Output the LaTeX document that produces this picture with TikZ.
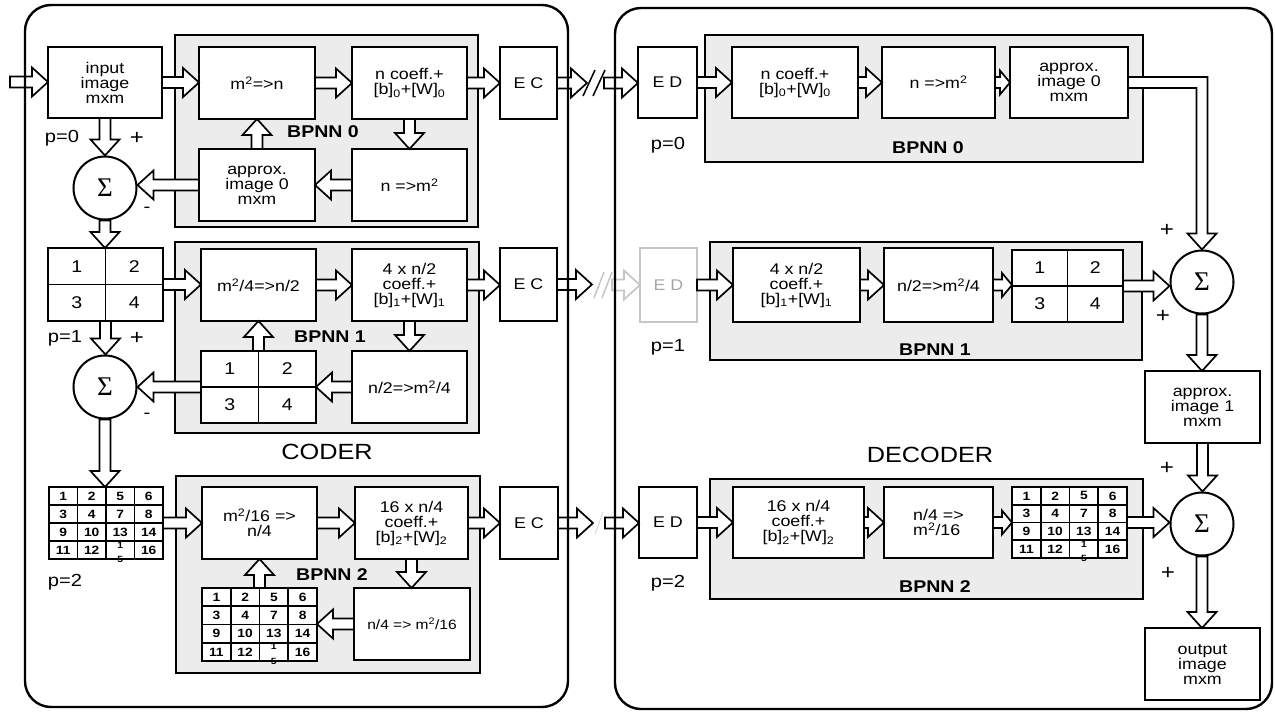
\documentclass[tikz,border=0pt]{standalone}
\usepackage{fontspec}
\setmainfont[FakeStretch=1.15]{Liberation Sans}
\newfontfamily\sigfont{Liberation Serif}
\usetikzlibrary{calc}
\newcommand\fs[2]{\fontsize{#1}{#2}\selectfont}
\newcommand\sbs[1]{\textsubscript{#1}}
\newcommand\sps[1]{\textsuperscript{#1}}
\def\arW{5.5pt}\def\arH{14.5pt}\def\arL{16pt}
\tikzset{
 box/.style={draw,line width=2.1pt,fill=white,inner sep=0pt,outer sep=0pt,align=center,font=\fs{15.5}{15}},
 gbox/.style={fill=gray!15},
 faded/.style={draw=gray!45,text=gray!70},
 gl/.style={line width=1.7pt},
 num2/.style={font=\fs{17}{17},inner sep=0pt},
 num4/.style={font=\bfseries\fs{12}{12},inner sep=0pt},
 num4s/.style={font=\bfseries\fs{9}{9},inner sep=0pt},
 sig/.style={circle,draw,line width=2pt,fill=white,minimum size=63pt,inner sep=0pt,font=\sigfont\fs{27}{27}},
 arr/.style={draw,fill=white,line width=1.7pt,line join=miter},
 sl/.style={line width=1.5pt},
 outer/.style={draw,line width=2.4pt,rounded corners=26pt,inner sep=0pt,outer sep=0pt},
 lbl/.style={font=\fs{17.5}{17},inner sep=0pt},
 pls/.style={font=\fs{21}{21},inner sep=0pt},
 bp/.style={font=\bfseries\fs{17}{17},inner sep=0pt},
 big/.style={font=\fs{22}{22},inner sep=0pt},
}
\newcommand\bx[7][]{\node[box,#1,minimum width={#5-#3},minimum height={#6-#4}] (#2) at ({(#3+#5)/2},{(#4+#6)/2}) {#7};}
\newcommand\gtwo[6][]{\bx[#1]{#2}{#3}{#4}{#5}{#6}{}
 \draw[gl,#1] (#2.north) -- (#2.south) (#2.west) -- (#2.east);
 \node[num2] (#2-1) at ($(#2.north west)!0.25!(#2.south east)$) {1};
 \node[num2] (#2-2) at ($(#2.north east)!0.25!(#2.south west)$) {2};
 \node[num2] (#2-3) at ($(#2.north east)!0.75!(#2.south west)$) {3};
 \node[num2] (#2-4) at ($(#2.north west)!0.75!(#2.south east)$) {4};}
\newcommand\gfour[5]{\bx{#1}{#2}{#3}{#4}{#5}{}
 \foreach \i in {1,2,3}{
  \draw[gl] ($(#1.north west)!\i/4!(#1.north east)$) -- ($(#1.south west)!\i/4!(#1.south east)$);
  \draw[gl] ($(#1.north west)!\i/4!(#1.south west)$) -- ($(#1.north east)!\i/4!(#1.south east)$);}
 \foreach \t [count=\k from 0] in {1,2,5,6,3,4,7,8,9,10,13,14,11,12,{},16}{
  \pgfmathtruncatemacro\gfc{mod(\k,4)}\pgfmathtruncatemacro\gfr{\k/4}
  \node[num4] (#1-\k) at ({#2+(#4-#2)*(2*\gfc+1)/8},{#3+(#5-#3)*(2*\gfr+1)/8}) {\t};}
 \node[num4s] (#1-a) at ({#2+(#4-#2)*5/8},{#3+(#5-#3)*3/4+4}) {1};
 \node[num4s] (#1-b) at ({#2+(#4-#2)*5/8},{#5}) {5};}
\newcommand\harr[3][]{\draw[arr,#1] let \p1=#2, \p2=#3, \n1={(\x2-\x1)/abs(\x2-\x1)} in
 (\x1,{\y1+\arW}) -- ({\x2-\n1*\arL},{\y1+\arW}) -- ({\x2-\n1*\arL},{\y1+\arH}) -- (\x2,\y1)
 -- ({\x2-\n1*\arL},{\y1-\arH}) -- ({\x2-\n1*\arL},{\y1-\arW}) -- (\x1,{\y1-\arW}) -- cycle;}
\newcommand\varr[3][]{\draw[arr,#1] let \p1=#2, \p2=#3, \n1={(\y2-\y1)/abs(\y2-\y1)} in
 ({\x1+\arW},\y1) -- ({\x1+\arW},{\y2-\n1*\arL}) -- ({\x1+\arH},{\y2-\n1*\arL}) -- (\x1,\y2)
 -- ({\x1-\arH},{\y2-\n1*\arL}) -- ({\x1-\arW},{\y2-\n1*\arL}) -- ({\x1-\arW},\y1) -- cycle;}
\newcommand\sharr[2]{{\def\arL{10pt}\def\arH{12pt}\harr{#1}{#2}}}
\begin{document}
\begin{tikzpicture}[x=1pt,y=-1pt]
\useasboundingbox (0,0) rectangle (1275,713);
% gray BPNN regions
\bx[gbox]{g0}{175}{35}{478}{227}{}
\bx[gbox]{g1}{175}{242}{479}{433}{}
\bx[gbox]{g2}{176}{476}{480}{673}{}
\bx[gbox]{dg0}{705}{35}{1143}{162}{}
\bx[gbox]{dg1}{710}{242}{1142}{360}{}
\bx[gbox]{dg2}{710}{479}{1143}{599}{}
% ---- coder row 0
\bx{cin}{48}{47}{162}{118}{input\\image\\mxm}
\bx{c0a}{199}{47}{315}{119}{m\sps{2}=>n}
\bx{c0b}{352}{47}{467}{119}{n coeff.+\\{[b]}\sbs{0}+[W]\sbs{0}}
\bx{c0ec}{500}{47}{557}{119}{E C}
\bx{c0ap}{199}{149}{315}{221}{approx.\\image 0\\mxm}
\bx{c0c}{352}{149}{467}{221}{n =>m\sps{2}}
\node[sig] (cs0) at (105,188) {Σ};
% ---- coder row 1
\gtwo{c1g}{48}{248}{163}{321}
\bx{c1a}{201}{249}{316}{321}{m\sps{2}/4=>n/2}
\bx{c1b}{352}{249}{467}{321}{4 x n/2\\coeff.+\\{[b]}\sbs{1}+[W]\sbs{1}}
\bx{c1ec}{500}{248}{557}{321}{E C}
\gtwo{c1ig}{201}{351}{316}{423}
\bx{c1c}{352}{351}{467}{423}{n/2=>m\sps{2}/4}
\node[sig] (cs1) at (105,387) {Σ};
% ---- coder row 2
\gfour{c2g}{49}{487}{163}{559}
\bx{c2a}{202}{487}{317}{559}{m\sps{2}/16 =>\\n/4}
\bx{c2b}{355}{487}{468}{559}{16 x n/4\\coeff.+\\{[b]}\sbs{2}+[W]\sbs{2}}
\bx{c2ec}{500}{487}{558}{559}{E C}
\gfour{c2ig}{202}{588}{317}{661}
\bx[font=\fs{13.5}{14}]{c2c}{354}{588}{470}{660}{n/4 => m\sps{2}/16}
% ---- decoder row 0
\bx{d0ed}{638}{47}{697}{118}{E D}
\bx{d0a}{732}{47}{858}{118}{n coeff.+\\{[b]}\sbs{0}+[W]\sbs{0}}
\bx{d0b}{882}{47}{995}{118}{n =>m\sps{2}}
\bx{d0ap}{1010}{47}{1128}{118}{approx.\\image 0\\mxm}
% ---- decoder row 1
\bx[faded]{d1ed}{640}{248}{697}{322}{E D}
\bx{d1a}{733}{248}{860}{322}{4 x n/2\\coeff.+\\{[b]}\sbs{1}+[W]\sbs{1}}
\bx{d1b}{884}{248}{993}{322}{n/2=>m\sps{2}/4}
\gtwo{d1g}{1012}{250}{1123}{322}
\node[sig] (ds1) at (1202,282) {Σ};
\bx{dap1}{1145}{371}{1260}{443}{approx.\\image 1\\mxm}
% ---- decoder row 2
\bx{d2ed}{639}{487}{697}{558}{E D}
\bx{d2a}{733}{487}{864}{558}{16 x n/4\\coeff.+\\{[b]}\sbs{2}+[W]\sbs{2}}
\bx[align=left]{d2b}{884}{487}{993}{558}{n/4 =>\\m\sps{2}/16}
\gfour{d2g}{1012}{487}{1127}{558}
\node[sig] (ds2) at (1202,524) {Σ};
\bx{dout}{1145}{628}{1260}{700}{output\\image\\mxm}
% ---- channel coordinates
\coordinate (inA) at (10,82);
\coordinate (ch0a) at (587,83);  \coordinate (ch0b) at (604,83);
\coordinate (ch1a) at (592,285); \coordinate (ch1b) at (612,285);
\coordinate (ch2a) at (593,523); \coordinate (ch2b) at (605,523);
% ---- coder arrows
\harr{(inA)}{(cin.west)}
\harr{(cin.east)}{(c0a.west)}
\harr{(c0a.east)}{(c0b.west)}
\harr{(c0b.east)}{(c0ec.west)}
\harr{(c0ec.east)}{(ch0a)}
\varr{(c0b.south)}{(c0c.north)}
\harr{(c0c.west)}{(c0ap.east)}
\varr{(c0ap.north)}{(c0a.south)}
\harr{(c0ap.west)}{(cs0.east)}
\varr{(cin.south)}{(cs0.north)}
\varr{(cs0.south)}{(c1g.north)}
\harr{(c1g.east)}{(c1a.west)}
\harr{(c1a.east)}{(c1b.west)}
\harr{(c1b.east)}{(c1ec.west)}
\harr{(c1ec.east)}{(ch1a)}
\varr{(c1b.south)}{(c1c.north)}
\harr{(c1c.west)}{(c1ig.east)}
\varr{(c1ig.north)}{(c1a.south)}
\harr{(c1ig.west)}{(cs1.east)}
\varr{(c1g.south)}{(cs1.north)}
\varr{(cs1.south)}{(c2g.north)}
\harr{(c2g.east)}{(c2a.west)}
\harr{(c2a.east)}{(c2b.west)}
\harr{(c2b.east)}{(c2ec.west)}
\harr{(c2ec.east)}{(ch2a)}
\varr{(c2b.south)}{(c2c.north)}
\harr{(c2c.west)}{(c2ig.east)}
\varr{(c2ig.north)}{(c2a.south)}
% ---- channel
\harr{(ch0b)}{(d0ed.west)}
\draw[sl] ($(ch0a)+(-4,13)$) -- ($(ch0a)+(8,-13)$);
\draw[sl] ($(ch0a)+(6,13)$) -- ($(ch0a)+(18,-13)$);
\harr[draw=gray!45]{(ch1b)}{(d1ed.west)}
\draw[sl,gray!45] ($(ch1a)+(2,13)$) -- ($(ch1a)+(12,-13)$);
\draw[sl,gray!45] ($(ch1a)+(10,13)$) -- ($(ch1a)+(20,-13)$);
\harr{(ch2b)}{(d2ed.west)}
\draw[line width=0.8pt,gray!35] ($(ch2a)+(2,11)$) -- ($(ch2a)+(10,-11)$);
% ---- decoder arrows
\harr{(d0ed.east)}{(d0a.west)}
\harr{(d0a.east)}{(d0b.west)}
\sharr{(d0b.east)}{(d0ap.west)}
\draw[arr] let \p1=(d0ap.east), \p2=(ds1.north) in
 (\x1,{\y1+\arW}) -- ({\x2+\arW},{\y1+\arW}) -- ({\x2+\arW},{\y2+\arL}) -- ({\x2+\arH},{\y2+\arL})
 -- (\x2,\y2) -- ({\x2-\arH},{\y2+\arL}) -- ({\x2-\arW},{\y2+\arL}) -- ({\x2-\arW},{\y1-\arW})
 -- (\x1,{\y1-\arW}) -- cycle;
\harr{(d1ed.east)}{(d1a.west)}
\harr{(d1a.east)}{(d1b.west)}
\sharr{(d1b.east)}{(d1g.west)}
\harr{(d1g.east)}{(ds1.west)}
\varr{(ds1.south)}{(dap1.north)}
\varr{(dap1.south)}{(ds2.north)}
\varr{(ds2.south)}{(dout.north)}
\harr{(d2ed.east)}{(d2a.west)}
\harr{(d2a.east)}{(d2b.west)}
\sharr{(d2b.east)}{(d2g.west)}
\harr{(d2g.east)}{(ds2.west)}
% ---- labels
\node[lbl] (p0) at (62,138) {p=0};
\node[pls] (pl0) at (137,138) {+};
\node[lbl] (mi0) at (147,210) {-};
\node[lbl] (p1) at (65,338) {p=1};
\node[pls] (pl1) at (137,338) {+};
\node[lbl] (mi1) at (147,416) {-};
\node[lbl] (p2) at (65,582) {p=2};
\node[bp] (b0) at (323,132) {BPNN 0};
\node[bp] (b1) at (330,337) {BPNN 1};
\node[bp] (b2) at (332,575) {BPNN 2};
\node[big] (coder) at (327,452) {CODER};
\node[lbl] (dp0) at (668,145) {p=0};
\node[lbl] (dp1) at (668,347) {p=1};
\node[lbl] (dp2) at (668,583) {p=2};
\node[bp] (db0) at (928,148) {BPNN 0};
\node[bp] (db1) at (935,350) {BPNN 1};
\node[bp] (db2) at (935,587) {BPNN 2};
\node[big] (decoder) at (930,455) {DECODER};
\node[pls] (dpl1) at (1167,230) {+};
\node[pls] (dpl2) at (1163,316) {+};
\node[pls] (dpl3) at (1167,468) {+};
\node[pls] (dpl4) at (1168,573) {+};
% ---- outer containers
\node[outer,minimum width=543pt,minimum height=702pt] (coderbox) at (296.5,356) {};
\node[outer,minimum width=657pt,minimum height=701pt] (decoderbox) at (943.5,358.5) {};
\end{tikzpicture}
\end{document}
